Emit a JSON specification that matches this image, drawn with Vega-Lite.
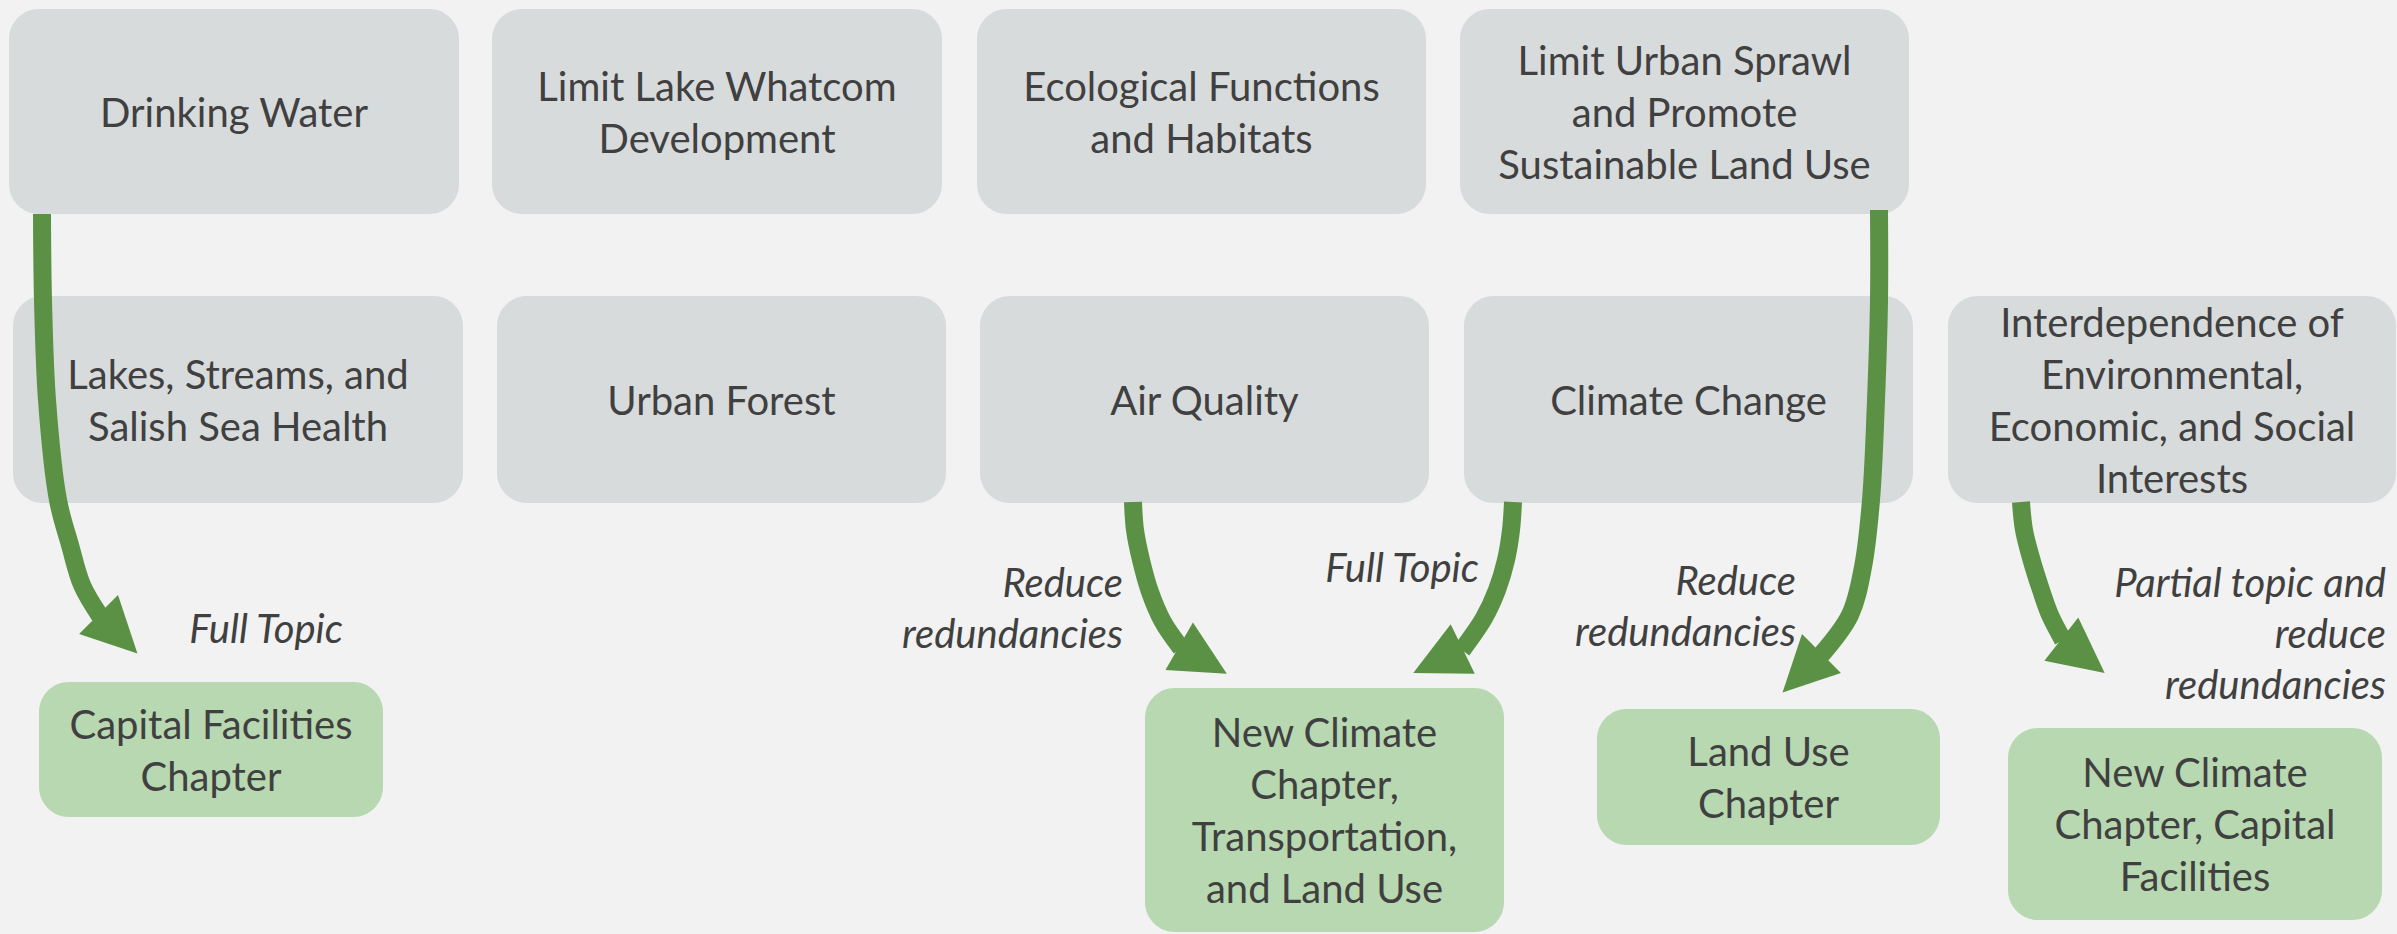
{
  "$schema": "https://vega.github.io/schema/vega-lite/v6.json",
  "width": 2397,
  "height": 934,
  "autosize": "none",
  "padding": 0,
  "background": "#f1f2f1",
  "config": {"view": {"stroke": null}},
  "datasets": {
    "boxes": [
      {"label": "Drinking Water", "kind": "topic", "x1": 9, "x2": 459, "y1": 9, "y2": 214},
      {"label": "Limit Lake Whatcom\nDevelopment", "kind": "topic", "x1": 492, "x2": 942, "y1": 9, "y2": 214},
      {"label": "Ecological Functions\nand Habitats", "kind": "topic", "x1": 977, "x2": 1426, "y1": 9, "y2": 214},
      {"label": "Limit Urban Sprawl\nand Promote\nSustainable Land Use", "kind": "topic", "x1": 1460, "x2": 1909, "y1": 9, "y2": 214},
      {"label": "Lakes, Streams, and\nSalish Sea Health", "kind": "topic", "x1": 13, "x2": 463, "y1": 296, "y2": 503},
      {"label": "Urban Forest", "kind": "topic", "x1": 497, "x2": 946, "y1": 296, "y2": 503},
      {"label": "Air Quality", "kind": "topic", "x1": 980, "x2": 1429, "y1": 296, "y2": 503},
      {"label": "Climate Change", "kind": "topic", "x1": 1464, "x2": 1913, "y1": 296, "y2": 503},
      {"label": "Interdependence of\nEnvironmental,\nEconomic, and Social\nInterests", "kind": "topic", "x1": 1948, "x2": 2396, "y1": 296, "y2": 503},
      {"label": "Capital Facilities\nChapter", "kind": "chapter", "x1": 39, "x2": 383, "y1": 682, "y2": 817},
      {"label": "New Climate\nChapter,\nTransportation,\nand Land Use", "kind": "chapter", "x1": 1145, "x2": 1504, "y1": 688, "y2": 932},
      {"label": "Land Use\nChapter", "kind": "chapter", "x1": 1597, "x2": 1940, "y1": 709, "y2": 845},
      {"label": "New Climate\nChapter, Capital\nFacilities", "kind": "chapter", "x1": 2008, "x2": 2382, "y1": 728, "y2": 920}
    ],
    "arrows": [
      {"arrow": "A1", "i": 0, "x": 42, "y": 214},
      {"arrow": "A1", "i": 1, "x": 43, "y": 300},
      {"arrow": "A1", "i": 2, "x": 47, "y": 400},
      {"arrow": "A1", "i": 3, "x": 58, "y": 500},
      {"arrow": "A1", "i": 4, "x": 70, "y": 545},
      {"arrow": "A1", "i": 5, "x": 82, "y": 585},
      {"arrow": "A1", "i": 6, "x": 100, "y": 616},
      {"arrow": "A2", "i": 0, "x": 1133, "y": 502},
      {"arrow": "A2", "i": 1, "x": 1135, "y": 530},
      {"arrow": "A2", "i": 2, "x": 1141, "y": 560},
      {"arrow": "A2", "i": 3, "x": 1150, "y": 592},
      {"arrow": "A2", "i": 4, "x": 1163, "y": 622},
      {"arrow": "A2", "i": 5, "x": 1181, "y": 648},
      {"arrow": "A3", "i": 0, "x": 1513, "y": 502},
      {"arrow": "A3", "i": 1, "x": 1511, "y": 530},
      {"arrow": "A3", "i": 2, "x": 1506, "y": 560},
      {"arrow": "A3", "i": 3, "x": 1497, "y": 590},
      {"arrow": "A3", "i": 4, "x": 1484, "y": 618},
      {"arrow": "A3", "i": 5, "x": 1462, "y": 650},
      {"arrow": "A4", "i": 0, "x": 1879, "y": 210},
      {"arrow": "A4", "i": 1, "x": 1879, "y": 300},
      {"arrow": "A4", "i": 2, "x": 1876, "y": 400},
      {"arrow": "A4", "i": 3, "x": 1871, "y": 500},
      {"arrow": "A4", "i": 4, "x": 1863, "y": 567},
      {"arrow": "A4", "i": 5, "x": 1850, "y": 615},
      {"arrow": "A4", "i": 6, "x": 1821, "y": 655},
      {"arrow": "A5", "i": 0, "x": 2021, "y": 502},
      {"arrow": "A5", "i": 1, "x": 2024, "y": 530},
      {"arrow": "A5", "i": 2, "x": 2031, "y": 558},
      {"arrow": "A5", "i": 3, "x": 2041, "y": 590},
      {"arrow": "A5", "i": 4, "x": 2050, "y": 615},
      {"arrow": "A5", "i": 5, "x": 2063, "y": 640}
    ],
    "heads": [
      {"arrow": "A1", "x": 118, "y": 634, "dir": 135},
      {"arrow": "A2", "x": 1203, "y": 660, "dir": 120},
      {"arrow": "A3", "x": 1438, "y": 661, "dir": -116},
      {"arrow": "A4", "x": 1802, "y": 673, "dir": -135},
      {"arrow": "A5", "x": 2083, "y": 656, "dir": 128}
    ],
    "notes": [
      {"note": "Full Topic", "x": 343, "y": 643},
      {"note": "Reduce\nredundancies", "x": 1123, "y": 597},
      {"note": "Full Topic", "x": 1479, "y": 582},
      {"note": "Reduce\nredundancies", "x": 1796, "y": 595},
      {"note": "Partial topic and\nreduce\nredundancies", "x": 2386, "y": 597}
    ]
  },
  "layer": [
    {
      "data": {"name": "boxes"},
      "mark": {"type": "rect", "cornerRadius": 30},
      "encoding": {
        "x": {"field": "x1", "type": "quantitative", "scale": {"domain": [0, 2397], "nice": false, "zero": false}, "axis": null},
        "x2": {"field": "x2"},
        "y": {"field": "y1", "type": "quantitative", "scale": {"domain": [0, 934], "reverse": true, "nice": false, "zero": false}, "axis": null},
        "y2": {"field": "y2"},
        "color": {"field": "kind", "type": "nominal", "scale": {"domain": ["topic", "chapter"], "range": ["#d8dbdc", "#b7d8b0"]}, "legend": null}
      }
    },
    {
      "data": {"name": "arrows"},
      "mark": {"type": "line", "strokeWidth": 18, "color": "#5a9144", "interpolate": "catmull-rom", "strokeCap": "butt"},
      "encoding": {
        "x": {"field": "x", "type": "quantitative"},
        "y": {"field": "y", "type": "quantitative"},
        "detail": {"field": "arrow"},
        "order": {"field": "i", "type": "quantitative"}
      }
    },
    {
      "data": {"name": "heads"},
      "mark": {"type": "point", "shape": "M0,-1L1,1L-1,1Z", "filled": true, "size": 3025, "color": "#5a9144", "opacity": 1, "strokeWidth": 0},
      "encoding": {
        "x": {"field": "x", "type": "quantitative"},
        "y": {"field": "y", "type": "quantitative"},
        "angle": {"field": "dir", "type": "quantitative", "scale": null}
      }
    },
    {
      "data": {"name": "boxes"},
      "transform": [
        {"calculate": "(datum.x1 + datum.x2) / 2", "as": "cx"},
        {"calculate": "(datum.y1 + datum.y2) / 2 - (length(split(datum.label, '\\n')) - 1) * 26", "as": "cy"}
      ],
      "mark": {"type": "text", "font": "Lato", "fontSize": 40, "color": "#404040", "lineBreak": "\n", "lineHeight": 52, "baseline": "middle", "align": "center", "dy": 3},
      "encoding": {
        "x": {"field": "cx", "type": "quantitative"},
        "y": {"field": "cy", "type": "quantitative"},
        "text": {"field": "label"}
      }
    },
    {
      "data": {"name": "notes"},
      "mark": {"type": "text", "font": "Lato", "fontSize": 40, "fontStyle": "italic", "color": "#404040", "lineBreak": "\n", "lineHeight": 51, "baseline": "alphabetic", "align": "right"},
      "encoding": {
        "x": {"field": "x", "type": "quantitative"},
        "y": {"field": "y", "type": "quantitative"},
        "text": {"field": "note"}
      }
    }
  ]
}
